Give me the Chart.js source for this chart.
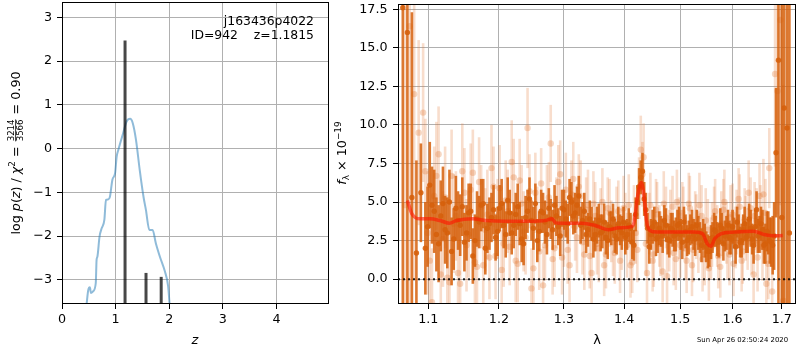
<!DOCTYPE html>
<html>
<head>
<meta charset="utf-8">
<script src="https://cdn.jsdelivr.net/npm/chart.js@4.4.1/dist/chart.umd.min.js"></script>
<style>
    body { margin: 0; background: #fff; }
    #wrap { position: relative; width: 800px; height: 350px; }
    canvas { position: absolute; top: 0; }
    #pz { left: 0; }
    #spec { left: 330px; }
</style>
</head>
<body>
<div id="wrap">
    <canvas id="pz" width="340" height="350"></canvas>
    <canvas id="spec" width="470" height="350"></canvas>
</div>
<script>
// left panel: log p(z)
const zGrid = [0.44, 0.49, 0.52, 0.54, 0.58, 0.63, 0.645, 0.66, 0.70, 0.74, 0.79, 0.82, 0.86, 0.894, 0.94, 0.99, 1.02, 1.05, 1.14, 1.205, 1.27, 1.32, 1.38, 1.45, 1.52, 1.565, 1.63, 1.69, 1.75, 1.826, 1.92, 1.98, 2.02];
const logPz = [-3.8, -3.23, -3.17, -3.30, -3.26, -3.07, -2.54, -2.47, -2.01, -1.82, -1.63, -1.17, -1.16, -1.10, -0.71, -0.56, -0.18, -0.03, 0.35, 0.62, 0.68, 0.58, 0.20, -0.49, -1.10, -1.40, -1.86, -1.86, -2.16, -2.47, -2.81, -3.15, -3.8];
const peakZ = [1.176, 1.567, 1.85];
const peakLogp = [2.47, -2.84, -2.93];
const zTicks = [0, 1, 2, 3, 4];
const logTicks = [-3, -2, -1, 0, 1, 2, 3];

// right panel: spectrum (flux x 1e-19)
const darkWave = [1.066,1.072,1.078,1.084,1.090,1.096,1.102,1.108,1.114,1.120,
    1.126,1.132,1.138,1.144,1.150,1.156,1.162,1.168,1.174,1.180,
    1.186,1.192,1.198,1.204,1.210,1.216,1.222,1.228,1.234,1.240,
    1.246,1.252,1.258,1.264,1.270,1.276,1.282,1.288,1.294,1.300,
    1.306,1.312,1.318,1.324,1.330,1.336,1.342,1.348,1.354,1.360,
    1.366,1.372,1.378,1.384,1.390,1.396,1.402,1.408,1.414,1.420,
    1.426,1.432,1.438,1.444,1.450,1.456,1.462,1.468,1.474,1.480,
    1.486,1.492,1.498,1.504,1.510,1.516,1.522,1.528,1.534,1.540,
    1.546,1.552,1.558,1.564,1.570,1.576,1.582,1.588,1.594,1.600,
    1.606,1.612,1.618,1.624,1.630,1.636,1.642,1.648,1.654,1.660,
    1.666,1.672,1.678,1.684,1.688,1.693,1.700,1.705,1.711,1.716];
const darkFlux = [17.6,16.0,5.3,1.7,5.6,2.0,6.1,4.4,2.3,4.9,
    3.0,1.8,4.6,3.5,2.4,4.3,1.5,3.9,4.8,2.0,
    3.6,4.5,3.1,4.9,2.9,4.3,3.5,4.7,2.6,4.0,
    5.2,3.3,2.5,4.4,3.7,4.6,3.2,4.1,2.8,4.5,
    3.6,5.0,4.3,5.4,3.8,2.9,3.9,2.6,3.5,3.0,
    3.7,2.5,3.3,2.8,3.6,3.0,2.7,3.5,2.4,4.2,
    6.0,7.0,4.5,2.1,3.4,2.6,3.3,2.8,3.5,2.5,
    3.2,2.9,3.6,2.4,3.1,2.7,3.4,2.6,3.0,2.2,
    2.5,1.8,2.4,3.2,2.6,3.5,2.3,3.0,2.7,3.4,
    2.1,3.1,2.5,3.6,2.8,3.3,2.2,4.5,2.9,3.2,
    2.3,3.0,2.4,2.8,8.2,14.2,4.0,11.1,9.8,3.0];
const darkErr = [25,20,12,6,3.2,3.0,2.8,2.7,2.5,2.4,
    2.3,2.2,2.1,2.0,1.9,1.9,1.8,1.8,1.7,1.7,
    1.7,1.6,1.6,1.6,1.5,1.5,1.5,1.5,1.5,1.4,
    1.4,1.4,1.4,1.4,1.4,1.3,1.3,1.3,1.3,1.3,
    1.3,1.3,1.3,1.3,1.2,1.2,1.2,1.2,1.2,1.2,
    1.2,1.2,1.1,1.1,1.1,1.1,1.1,1.1,1.1,1.1,
    1.2,1.2,1.1,1.1,1.1,1.1,1.1,1.1,1.1,1.1,
    1.1,1.1,1.1,1.1,1.1,1.1,1.1,1.1,1.1,1.1,
    1.1,1.1,1.1,1.1,1.1,1.1,1.1,1.1,1.1,1.1,
    1.1,1.1,1.1,1.1,1.1,1.2,1.2,1.2,1.2,1.3,
    1.3,1.4,1.6,2.2,4.2,16,16,16,16,16];

// second, interleaved set of the same (dark) spectrum
const darkWaveB = [1.099,1.105,1.111,1.117,1.123,1.129,1.135,1.141,1.147,1.153,
    1.159,1.165,1.171,1.177,1.183,1.189,1.195,1.201,1.207,1.213,
    1.219,1.225,1.231,1.237,1.243,1.249,1.255,1.261,1.267,1.273,
    1.279,1.285,1.291,1.297,1.303,1.309,1.315,1.321,1.327,1.333,
    1.339,1.345,1.351,1.357,1.363,1.369,1.375,1.381,1.387,1.393,
    1.399,1.405,1.411,1.417,1.423,1.429,1.435,1.441,1.447,1.453,
    1.459,1.465,1.471,1.477,1.483,1.489,1.495,1.501,1.507,1.513,
    1.519,1.525,1.531,1.537,1.543,1.549,1.555,1.561,1.567,1.573,
    1.579,1.585,1.591,1.597,1.603,1.609,1.615,1.621,1.627,1.633,
    1.639,1.645,1.651,1.657,1.663,1.669,1.675,1.681];
const darkFluxB = [3.4,4.8,2.9,4.1,3.2,5.0,2.6,3.8,4.7,3.0,
    4.4,2.5,3.7,4.9,3.3,4.0,2.7,4.6,3.5,5.1,
    3.0,4.2,3.6,2.3,4.4,3.8,4.9,3.1,4.3,2.9,
    3.9,4.8,3.4,4.6,3.9,5.3,4.1,4.8,3.5,4.4,
    3.2,3.6,2.9,3.8,3.1,2.7,3.4,3.9,2.6,3.2,
    3.7,2.9,3.3,2.2,5.0,6.6,5.2,3.3,2.9,3.7,
    2.7,3.1,3.8,2.6,3.3,2.8,3.5,2.9,3.7,2.5,
    3.2,2.9,3.5,2.7,2.9,2.1,1.8,2.7,3.1,2.4,
    3.3,2.8,3.5,2.6,3.0,3.7,2.4,3.2,2.7,3.9,
    2.6,3.4,2.8,3.6,2.2,3.1,2.5,2.2];
const darkErrB = [2.6,2.5,2.4,2.3,2.2,2.1,2.0,1.9,1.9,1.8,
    1.8,1.7,1.7,1.6,1.6,1.6,1.5,1.5,1.5,1.5,
    1.4,1.4,1.4,1.4,1.4,1.3,1.3,1.3,1.3,1.3,
    1.3,1.3,1.2,1.2,1.2,1.2,1.2,1.2,1.2,1.2,
    1.1,1.1,1.1,1.1,1.1,1.1,1.0,1.0,1.0,1.0,
    1.0,1.0,1.0,1.0,1.1,1.1,1.1,1.0,1.0,1.0,
    1.0,1.0,1.0,1.0,1.0,1.0,1.0,1.0,1.0,1.0,
    1.0,1.0,1.0,1.0,1.0,1.0,1.0,1.0,1.0,1.0,
    1.0,1.0,1.0,1.0,1.0,1.0,1.0,1.0,1.0,1.0,
    1.0,1.1,1.1,1.1,1.2,1.3,1.5,1.9];

// faint (other exposures) spectrum
const lightWave = [1.069,1.075,1.081,1.087,1.093,1.099,1.105,1.111,1.117,1.123,
    1.129,1.135,1.141,1.147,1.153,1.159,1.165,1.171,1.177,1.183,
    1.189,1.195,1.201,1.207,1.213,1.219,1.225,1.231,1.237,1.243,
    1.249,1.255,1.261,1.267,1.273,1.279,1.285,1.291,1.297,1.303,
    1.309,1.315,1.321,1.327,1.333,1.339,1.345,1.351,1.357,1.363,
    1.369,1.375,1.381,1.387,1.393,1.399,1.405,1.411,1.417,1.423,
    1.429,1.434,1.440,1.446,1.452,1.458,1.464,1.470,1.476,1.482,
    1.488,1.494,1.500,1.506,1.512,1.518,1.524,1.530,1.536,1.542,
    1.548,1.554,1.560,1.566,1.572,1.578,1.584,1.590,1.596,1.602,
    1.608,1.614,1.620,1.626,1.632,1.638,1.644,1.650,1.656,1.662,
    1.668,1.674,1.680,1.686,1.691,1.697,1.703];
const lightFlux = [4.8,16.4,12.0,9.5,10.8,3.0,-1.5,6.7,0.3,5.3,
    -0.2,3.6,0.4,7.0,2.2,5.8,1.1,6.3,0.9,4.2,
    7.2,1.5,5.9,2.3,4.4,7.6,1.2,6.4,3.1,9.8,
    -0.6,5.6,1.8,-0.4,4.9,8.8,2.0,6.3,1.4,5.8,
    0.9,6.5,2.7,5.4,1.6,4.8,0.4,4.1,2.0,5.0,
    1.6,4.3,2.4,3.9,1.2,4.6,2.2,0.9,4.0,1.9,
    8.4,7.9,0.4,4.8,1.6,4.2,2.3,4.9,0.2,3.7,
    1.7,5.0,2.2,3.9,1.2,4.6,1.9,3.4,4.8,1.3,
    3.8,0.7,2.9,4.4,1.5,3.6,5.0,2.1,4.0,1.0,
    3.7,4.7,1.8,3.3,5.6,2.4,4.1,1.4,3.9,5.5,
    -0.3,7.2,-0.8,13.3,12.2,16.8,-1.4];
const lightErr = [18,20,12,6,4.5,4.0,3.5,3.5,3.4,3.3,
    3.2,3.2,3.1,3.1,3.0,3.0,3.0,2.9,2.9,2.9,
    2.8,2.8,2.8,2.8,2.7,2.7,2.7,2.7,2.6,2.6,
    2.6,2.6,2.5,2.5,2.5,2.5,2.5,2.4,2.4,2.4,
    2.4,2.4,2.3,2.3,2.3,2.3,2.3,2.2,2.2,2.2,
    2.2,2.2,2.2,2.1,2.1,2.1,2.1,2.1,2.1,2.1,
    2.2,2.2,2.1,2.1,2.1,2.1,2.1,2.1,2.1,2.1,
    2.1,2.1,2.1,2.1,2.1,2.1,2.1,2.1,2.1,2.1,
    2.1,2.1,2.1,2.1,2.1,2.1,2.1,2.1,2.1,2.1,
    2.1,2.1,2.1,2.1,2.1,2.1,2.2,2.2,2.2,2.3,
    2.4,2.6,3.0,6,8,12,14];

const lightWaveB = [1.096,1.102,1.108,1.114,1.120,1.126,1.132,1.138,1.144,1.150,
    1.156,1.162,1.168,1.174,1.180,1.186,1.192,1.198,1.204,1.210,
    1.216,1.222,1.228,1.234,1.240,1.246,1.252,1.258,1.264,1.270,
    1.276,1.282,1.288,1.294,1.300,1.306,1.312,1.318,1.324,1.330,
    1.336,1.342,1.348,1.354,1.360,1.366,1.372,1.378,1.384,1.390,
    1.396,1.402,1.408,1.414,1.420,1.426,1.432,1.438,1.444,1.450,
    1.456,1.462,1.468,1.474,1.480,1.486,1.492,1.498,1.504,1.510,
    1.516,1.522,1.528,1.534,1.540,1.546,1.552,1.558,1.564,1.570,
    1.576,1.582,1.588,1.594,1.600,1.606,1.612,1.618,1.624,1.630,
    1.636,1.642,1.648,1.654,1.660,1.666,1.672];
const lightFluxB = [7.0,1.2,5.4,8.1,2.6,0.1,6.7,4.1,-0.3,5.6,
    2.9,6.9,0.8,4.7,3.2,1.4,6.0,3.9,0.6,5.1,
    2.1,6.6,1.0,4.9,2.7,5.7,0.7,3.6,6.2,2.2,
    5.3,1.3,4.3,6.8,3.0,1.9,5.5,3.4,6.0,2.4,
    4.5,1.5,4.9,2.3,3.9,0.9,4.6,3.1,1.7,4.4,
    2.6,3.6,4.8,1.1,3.0,5.9,6.8,2.3,3.6,1.2,
    4.5,2.8,0.5,4.0,2.5,4.7,1.3,3.3,4.3,2.0,
    4.9,0.9,3.7,2.4,4.1,1.6,3.2,2.0,4.0,2.8,
    0.8,4.5,3.0,1.6,4.2,2.7,5.2,1.2,3.9,2.6,
    4.6,0.3,3.8,5.4,2.1,4.3,1.0];
const lightErrB = [3.4,3.3,3.2,3.1,3.1,3.0,3.0,2.9,2.9,2.9,
    2.8,2.8,2.8,2.7,2.7,2.7,2.6,2.6,2.6,2.6,
    2.5,2.5,2.5,2.5,2.4,2.4,2.4,2.4,2.3,2.3,
    2.3,2.3,2.3,2.2,2.2,2.2,2.2,2.2,2.1,2.1,
    2.1,2.1,2.1,2.0,2.0,2.0,2.0,2.0,2.0,2.0,
    2.0,2.0,2.0,2.0,2.0,2.0,2.1,2.1,2.0,2.0,
    2.0,2.0,2.0,2.0,2.0,2.0,2.0,2.0,2.0,2.0,
    2.0,2.0,2.0,2.0,2.0,2.0,2.0,2.0,2.0,2.0,
    2.0,2.0,2.0,2.0,2.0,2.0,2.0,2.0,2.0,2.0,
    2.0,2.0,2.1,2.1,2.2,2.2,2.3];

const modelWave = [1.072,1.078,1.089,1.102,1.116,1.129,1.139,1.162,1.181,1.210,1.245,1.271,1.281,1.287,1.297,1.329,1.351,1.373,1.391,1.413,
    1.417,1.424,1.430,1.435,1.439,1.445,1.459,1.496,1.526,1.542,1.551,1.558,1.565,1.577,1.603,1.642,1.663,1.683,1.702];
const modelFlux = [5.1,4.23,3.91,3.91,3.80,3.63,3.80,3.91,3.80,3.75,3.75,3.80,3.91,3.65,3.63,3.63,3.48,3.20,3.33,3.41,
    3.65,5.52,6.27,5.30,3.80,3.16,3.05,3.05,3.05,2.94,2.30,2.13,2.62,2.94,3.05,3.11,2.90,2.81,2.83];

const lamTicks = [1.1, 1.2, 1.3, 1.4, 1.5, 1.6, 1.7];
const fluxTicks = [0, 2.5, 5, 7.5, 10, 12.5, 15, 17.5];
const lamMin = 1.0597, lamMax = 1.730;

const FONT = '"DejaVu Sans", sans-serif';
Chart.defaults.font.family = FONT;
Chart.defaults.font.size = 12.7;
Chart.defaults.color = '#000';

const gridOpts = { color: '#b0b0b0', lineWidth: 1, tickColor: '#000', tickLength: 5 };

function fixSize(prop, size) {
    return (scale) => {
        scale[prop] = size;
        scale.paddingLeft = scale.paddingRight = scale.paddingTop = scale.paddingBottom = 0;
    };
}

function setTicks(values) {
    return (scale) => { scale.ticks = values.map((v) => ({ value: v })); };
}

const minus = (v) => (v < 0 ? '\u2212' + Math.abs(v) : String(v));

// box around plot area
const frame = {
    id: 'frame',
    afterDraw(chart) {
        const { ctx, chartArea: a } = chart;
        ctx.save();
        ctx.strokeStyle = '#000';
        ctx.lineWidth = 1;
        ctx.strokeRect(a.left + 0.5, a.top + 0.5, a.right - a.left - 1, a.bottom - a.top - 1);
        ctx.restore();
    }
};

// vertical error bars, drawn just before each dataset's points
const errorBars = {
    id: 'errorBars',
    beforeDatasetDraw(chart, args) {
        const ds = chart.data.datasets[args.index];
        if (!ds.errors) return;
        const { ctx, chartArea: a, scales } = chart;
        ctx.save();
        ctx.beginPath();
        ctx.rect(a.left, a.top, a.right - a.left, a.bottom - a.top);
        ctx.clip();
        ctx.strokeStyle = ds.errorColor;
        ctx.lineWidth = ds.errorWidth;
        ctx.lineCap = 'butt';
        ds.data.forEach((p, i) => {
            const x = scales.x.getPixelForValue(p.x);
            ctx.beginPath();
            ctx.moveTo(x, scales.y.getPixelForValue(p.y - ds.errors[i]));
            ctx.lineTo(x, scales.y.getPixelForValue(p.y + ds.errors[i]));
            ctx.stroke();
        });
        ctx.restore();
    }
};

// rotated / mixed-style label text
function drawRich(ctx, parts, size) {
    let total = 0;
    parts.forEach((p) => {
        const fs = size * (p.scale || 1);
        ctx.font = (p.italic ? 'italic ' : '') + fs + 'px ' + FONT;
        p.w = p.frac
            ? Math.max(ctx.measureText(p.frac[0]).width, ctx.measureText(p.frac[1]).width) + 2
            : ctx.measureText(p.text).width;
        total += p.w;
    });
    let x = -total / 2;
    ctx.textBaseline = 'alphabetic';
    parts.forEach((p) => {
        const fs = size * (p.scale || 1);
        ctx.font = (p.italic ? 'italic ' : '') + fs + 'px ' + FONT;
        if (p.frac) {
            const bar = -0.3 * size;
            ctx.textAlign = 'center';
            ctx.fillText(p.frac[0], x + p.w / 2, bar - 1.5);
            ctx.fillText(p.frac[1], x + p.w / 2, bar + 1.5 + 0.73 * fs);
            ctx.fillRect(x + 1, bar - 0.4, p.w - 2, 0.8);
        } else {
            ctx.textAlign = 'left';
            ctx.fillText(p.text, x, p.dy || 0);
        }
        x += p.w;
    });
}

const pzText = {
    id: 'pzText',
    afterDraw(chart) {
        const ctx = chart.ctx;
        ctx.save();
        ctx.fillStyle = '#000';
        ctx.font = '12.4px ' + FONT;
        ctx.textAlign = 'right';
        ctx.textBaseline = 'alphabetic';
        ctx.fillText('j163436p4022', 314, 24.5);
        ctx.fillText('ID=942    z=1.1815', 314, 39);

        ctx.textAlign = 'center';
        ctx.font = 'italic 13px ' + FONT;
        ctx.fillText('z', 195, 344);

        ctx.translate(19.5, 153);
        ctx.rotate(-Math.PI / 2);
        drawRich(ctx, [
            { text: 'log ' }, { text: 'p', italic: true }, { text: '(' }, { text: 'z', italic: true },
            { text: ') / ' }, { text: 'χ', italic: true }, { text: '2', scale: 0.7, dy: -5 },
            { text: ' = ' }, { frac: ['3214', '3566'], scale: 0.68 }, { text: ' = 0.90' }
        ], 12.7);
        ctx.restore();
    }
};

const specText = {
    id: 'specText',
    afterDraw(chart) {
        const ctx = chart.ctx;
        ctx.save();
        ctx.fillStyle = '#000';
        ctx.textAlign = 'center';
        ctx.textBaseline = 'alphabetic';
        ctx.font = '13px ' + FONT;
        ctx.fillText('λ', 267, 344);

        ctx.textAlign = 'left';
        ctx.font = '6.9px ' + FONT;
        ctx.fillText('Sun Apr 26 02:50:24 2020', 367, 342);

        ctx.translate(16, 153);
        ctx.rotate(-Math.PI / 2);
        drawRich(ctx, [
            { text: 'f', italic: true }, { text: 'λ', scale: 0.7, dy: 3 },
            { text: ' × 10' }, { text: '\u221219', scale: 0.7, dy: -5 }
        ], 12.7);
        ctx.restore();
    }
};

function darkSet(wave, flux, err) {
    return {
        data: wave.map((w, i) => ({ x: w, y: flux[i] })),
        errors: err,
        errorColor: 'rgba(214,96,12,0.85)',
        errorWidth: 2.6,
        pointRadius: 2.7,
        pointBorderWidth: 0,
        pointBackgroundColor: 'rgba(214,96,12,0.9)',
        clip: 0,
    };
}

function lightSet(wave, flux, err) {
    return {
        data: wave.map((w, i) => ({ x: w, y: flux[i] })),
        errors: err,
        errorColor: 'rgba(226,120,50,0.25)',
        errorWidth: 2.6,
        pointRadius: 3.2,
        pointBorderWidth: 0,
        pointBackgroundColor: 'rgba(226,120,50,0.3)',
        clip: 0,
    };
}

new Chart(document.getElementById('pz'), {
    type: 'scatter',
    data: {
        datasets: [
            ...peakZ.map((z, i) => ({
                data: [{ x: z, y: -4 }, { x: z, y: peakLogp[i] }],
                showLine: true,
                borderColor: 'rgba(0,0,0,0.72)',
                borderWidth: 3,
                borderCapStyle: 'butt',
                pointRadius: 0,
                clip: 0,
            })),
            {
                data: zGrid.map((z, i) => ({ x: z, y: logPz[i] })),
                showLine: true,
                borderColor: 'rgba(31,119,180,0.5)',
                borderWidth: 2,
                cubicInterpolationMode: 'monotone',
                pointRadius: 0,
                clip: 0,
            },
        ],
    },
    options: {
        responsive: false,
        animation: false,
        layout: { padding: { left: 0, top: 2, right: 11, bottom: 0 } },
        plugins: { legend: { display: false }, tooltip: { enabled: false } },
        scales: {
            x: {
                type: 'linear', min: 0, max: 4.98,
                afterFit: fixSize('height', 46),
                afterBuildTicks: setTicks(zTicks),
                ticks: { padding: 3, maxRotation: 0, autoSkip: false },
                grid: gridOpts,
                border: { display: false },
            },
            y: {
                min: -3.55, max: 3.35,
                afterFit: fixSize('width', 62),
                afterBuildTicks: setTicks(logTicks),
                ticks: { padding: 5, autoSkip: false, callback: minus },
                grid: gridOpts,
                border: { display: false },
            },
        },
    },
    plugins: [frame, pzText],
});

new Chart(document.getElementById('spec'), {
    type: 'scatter',
    data: {
        datasets: [
            {
                data: [{ x: lamMin, y: 0 }, { x: lamMax, y: 0 }],
                showLine: true,
                borderColor: 'rgba(0,0,0,0.85)',
                borderWidth: 2,
                borderDash: [2, 3],
                pointRadius: 0,
                clip: 0,
            },
            {
                data: modelWave.map((w, i) => ({ x: w, y: modelFlux[i] })),
                showLine: true,
                borderColor: 'rgba(255,20,0,0.6)',
                borderWidth: 3.5,
                cubicInterpolationMode: 'monotone',
                pointRadius: 0,
                clip: 0,
            },
            darkSet(darkWaveB, darkFluxB, darkErrB),
            darkSet(darkWave, darkFlux, darkErr),
            lightSet(lightWaveB, lightFluxB, lightErrB),
            lightSet(lightWave, lightFlux, lightErr),
        ],
    },
    options: {
        responsive: false,
        animation: false,
        layout: { padding: { left: 0, top: 2, right: 1, bottom: 0 } },
        plugins: { legend: { display: false }, tooltip: { enabled: false } },
        scales: {
            x: {
                type: 'logarithmic', min: lamMin, max: lamMax,
                afterFit: fixSize('height', 46),
                afterBuildTicks: setTicks(lamTicks),
                ticks: { padding: 3, maxRotation: 0, autoSkip: false, callback: (v) => v.toFixed(1) },
                grid: gridOpts,
                border: { display: false },
            },
            y: {
                min: -1.61, max: 17.84,
                afterFit: fixSize('width', 68),
                afterBuildTicks: setTicks(fluxTicks),
                ticks: { padding: 5.5, autoSkip: false, callback: (v) => v.toFixed(1) },
                grid: gridOpts,
                border: { display: false },
            },
        },
    },
    plugins: [frame, errorBars, specText],
});
</script>
</body>
</html>
